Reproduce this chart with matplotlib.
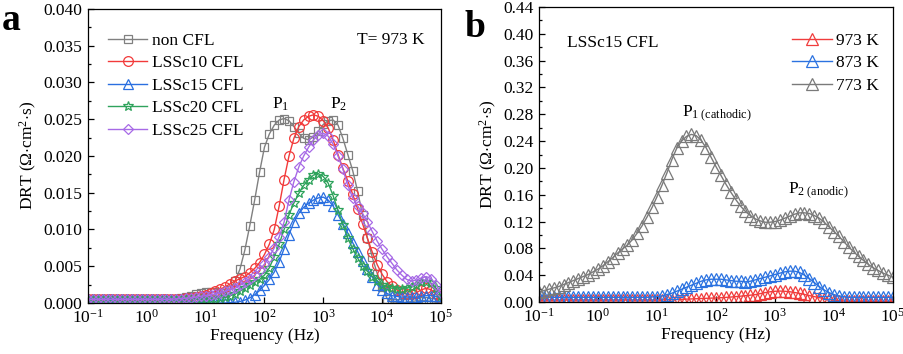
import numpy as np
import matplotlib
matplotlib.use("Agg")
import matplotlib.pyplot as plt
from matplotlib.ticker import FixedLocator, NullLocator, AutoMinorLocator, FormatStrFormatter, LogFormatterMathtext

plt.rcParams['font.family'] = ['Liberation Serif', 'DejaVu Serif']
plt.rcParams['mathtext.fontset'] = 'custom'
plt.rcParams['mathtext.rm'] = 'Liberation Serif'
plt.rcParams['mathtext.it'] = 'Liberation Serif:italic'
plt.rcParams['mathtext.bf'] = 'Liberation Serif:bold'

# frequency grid: 12 points per decade, 10^-1 .. 10^5 Hz
freq = np.logspace(-1, 5, 73)

# ---- panel a: DRT at 973 K (units of 1e-3 Ohm cm2 s) ----
labels_a = ["non CFL", "LSSc10 CFL", "LSSc15 CFL", "LSSc20 CFL", "LSSc25 CFL"]
non_cfl = [0.5]*12 + [
    0.5, 0.5, 0.5, 0.5, 0.5, 0.5, 0.55, 0.65, 0.8, 1.0, 1.2, 1.35,
    1.45, 1.5, 1.5, 1.4, 1.4, 1.8, 3.0, 4.6, 7.2, 10.5, 14.0, 17.8,
    21.2, 23.0, 24.2, 24.9, 25.1, 24.8, 24.0, 23.1, 22.4, 22.2, 22.6, 23.4,
    24.3, 24.8, 24.9, 24.2, 22.4, 20.2, 18.0, 15.2, 12.0, 8.8, 6.2, 4.0,
    2.2, 0.6, 0.0, 0.0, 0.0, 0.1, 0.2, 0.3, 0.3, 0.3, 0.2, 0.1,
    0.1]
lssc10 = [0.5]*12 + [
    0.5, 0.5, 0.5, 0.5, 0.5, 0.5, 0.55, 0.6, 0.65, 0.7, 0.8, 0.9,
    1.1, 1.3, 1.6, 1.9, 2.2, 2.6, 3.0, 3.3, 3.6, 4.1, 4.7, 5.5,
    6.6, 8.0, 10.0, 13.2, 16.8, 20.0, 22.4, 24.0, 24.9, 25.4, 25.6, 25.4,
    24.8, 23.8, 22.2, 20.2, 18.3, 16.6, 14.8, 12.8, 10.8, 8.8, 6.9, 5.2,
    3.9, 2.9, 2.3, 1.8, 1.4, 1.2, 1.2, 1.4, 1.8, 2.0, 1.8, 1.2,
    0.6]
lssc15 = [0.5]*12 + [
    0.5, 0.5, 0.5, 0.45, 0.4, 0.35, 0.3, 0.25, 0.2, 0.15, 0.1, 0.05,
    0.0, 0.0, 0.0, 0.0, 0.0, 0.05, 0.1, 0.2, 0.4, 0.7, 1.1, 1.7,
    2.4, 3.2, 4.2, 5.6, 7.4, 9.3, 11.0, 12.2, 13.0, 13.6, 14.0, 14.3,
    14.4, 14.0, 13.2, 12.0, 10.8, 9.5, 8.2, 7.0, 5.7, 4.6, 3.5, 2.5,
    1.8, 1.3, 1.0, 0.9, 0.8, 0.8, 0.8, 0.8, 0.9, 1.0, 1.0, 0.9,
    0.6]
lssc20 = [0.5]*24 + [
    0.5, 0.55, 0.6, 0.7, 0.8, 1.0, 1.2, 1.6, 2.0, 2.4, 2.8, 3.2,
    3.8, 4.8, 6.3, 8.0, 10.0, 12.0, 13.6, 14.9, 16.0, 16.8, 17.4, 17.6,
    17.2, 16.3, 14.6, 12.6, 10.6, 8.8, 7.4, 6.1, 5.1, 4.3, 3.6, 3.0,
    2.5, 2.2, 2.0, 1.9, 1.9, 2.0, 2.2, 2.5, 2.8, 2.9, 2.7, 2.0,
    1.0]
lssc25 = [0.5]*12 + [
    0.5, 0.5, 0.5, 0.5, 0.5, 0.5, 0.55, 0.6, 0.65, 0.7, 0.8, 0.9,
    1.0, 1.1, 1.2, 1.4, 1.6, 1.8, 2.0, 2.4, 2.8, 3.3, 3.8, 4.5,
    5.3, 6.3, 7.5, 9.0, 11.0, 14.0, 16.5, 18.5, 20.0, 21.2, 22.2, 22.9,
    23.1, 22.7, 21.6, 20.0, 18.2, 16.0, 14.3, 13.2, 12.2, 11.0, 9.7, 8.4,
    7.3, 6.3, 5.4, 4.5, 3.8, 3.2, 3.0, 3.1, 3.4, 3.6, 3.3, 2.5,
    1.3]
series_a = [non_cfl, lssc10, lssc15, lssc20, lssc25]
colors_a = ["#808080", "#f23a3a", "#2a6fe0", "#2fa35c", "#a76ae6"]
markers_a = ["s", "o", "^", "*", "D"]
msizes_a = [5.8, 7.0, 6.6, 7.2, 5.4]

# ---- panel b: LSSc15 CFL at different temperatures ----
labels_b = ["973 K", "873 K", "773 K"]
t973 = [0.003]*24 + [
    0.003, 0.0032, 0.0034, 0.0036, 0.0038, 0.004, 0.0043, 0.0046, 0.0049, 0.0052, 0.0055, 0.0058,
    0.006, 0.0064, 0.0069, 0.0074, 0.008, 0.0087, 0.0094, 0.0102, 0.011, 0.0125, 0.014, 0.0152,
    0.016, 0.0163, 0.016, 0.0153, 0.0142, 0.0128, 0.0112, 0.0096, 0.008, 0.0065, 0.0051, 0.0039,
    0.0029, 0.0021, 0.0016, 0.0013, 0.0011, 0.001, 0.001, 0.001, 0.001, 0.001, 0.001, 0.001,
    0.001]
t873 = [0.007]*23 + [
    0.0075,
    0.008, 0.009, 0.011, 0.013, 0.016, 0.019, 0.022, 0.025, 0.028, 0.031, 0.033, 0.034,
    0.034, 0.034, 0.033, 0.032, 0.031, 0.031, 0.030, 0.031, 0.033, 0.035, 0.037, 0.039,
    0.041, 0.043, 0.045, 0.046, 0.046, 0.044, 0.040, 0.035, 0.029, 0.023, 0.018, 0.014,
    0.011, 0.009, 0.008, 0.007, 0.007, 0.007, 0.007, 0.007, 0.007, 0.007, 0.007, 0.007,
    0.007]
t773 = [
    0.015, 0.017, 0.019, 0.021, 0.023, 0.026, 0.029, 0.032, 0.035, 0.038, 0.041, 0.045,
    0.049, 0.054, 0.060, 0.066, 0.073, 0.079, 0.085, 0.093, 0.103, 0.114, 0.127, 0.141,
    0.157, 0.174, 0.192, 0.212, 0.229, 0.240, 0.247, 0.250, 0.248, 0.241, 0.230, 0.216,
    0.202, 0.189, 0.176, 0.164, 0.153, 0.143, 0.135, 0.129, 0.124, 0.121, 0.119, 0.119,
    0.120, 0.122, 0.125, 0.128, 0.131, 0.133, 0.133, 0.132, 0.129, 0.125, 0.119, 0.112,
    0.105, 0.098, 0.090, 0.082, 0.075, 0.068, 0.062, 0.056, 0.051, 0.047, 0.043, 0.040,
    0.037]
series_b = [t973, t873, t773]
colors_b = ["#f03c3c", "#2b72e0", "#7a7a7a"]

FS = 12.5

fig = plt.figure(figsize=(9.04, 3.54), dpi=100)
axa = fig.add_axes([0.0973, 0.1441, 0.3905, 0.8305])
axb = fig.add_axes([0.5962, 0.1469, 0.3916, 0.8333])

for ys, c, m, ms, lab in zip(series_a, colors_a, markers_a, msizes_a, labels_a):
    axa.plot(freq, np.array(ys) * 1e-3, color=c, lw=1.0, marker=m, ms=ms,
             mfc='none', mec=c, mew=0.9, label=lab)

for ys, c, lab in zip(series_b, colors_b, labels_b):
    axb.plot(freq, ys, color=c, lw=1.0, marker='^', ms=8.0,
             mfc='none', mec=c, mew=0.9, label=lab)

for ax in (axa, axb):
    ax.set_xscale('log')
    ax.set_xlim(0.1, 1e5)
    ax.xaxis.set_major_locator(FixedLocator([1e-1, 1e0, 1e1, 1e2, 1e3, 1e4, 1e5]))
    ax.xaxis.set_major_formatter(LogFormatterMathtext())
    ax.xaxis.set_minor_locator(NullLocator())
    ax.tick_params(which='both', direction='in', top=False, right=False, labelsize=FS)
    ax.tick_params(which='major', length=4, width=0.9, pad=4)
    ax.tick_params(which='minor', length=2.2, width=0.9)
    for s in ax.spines.values():
        s.set_linewidth(0.9)
    ax.set_xlabel("Frequency (Hz)", fontsize=FS, labelpad=1)
    ax.set_ylabel(r"DRT ($\Omega$$\cdot$cm$^2$$\cdot$s)", fontsize=FS, labelpad=3)

axa.set_ylim(0, 0.040)
axa.yaxis.set_major_locator(FixedLocator(np.arange(0, 0.0401, 0.005)))
axa.yaxis.set_major_formatter(FormatStrFormatter('%.3f'))
axa.yaxis.set_minor_locator(AutoMinorLocator(2))

axb.set_ylim(0, 0.44)
axb.yaxis.set_major_locator(FixedLocator(np.arange(0, 0.4401, 0.04)))
axb.yaxis.set_major_formatter(FormatStrFormatter('%.2f'))
axb.yaxis.set_minor_locator(AutoMinorLocator(2))

axa.legend(loc='upper left', bbox_to_anchor=(0.057, 0.92), frameon=False, fontsize=FS,
           borderpad=0, borderaxespad=0, handlelength=2.25, handletextpad=0.3,
           labelspacing=0.37)
axb.legend(loc='upper left', bbox_to_anchor=(0.715, 0.913), frameon=False, fontsize=FS,
           borderpad=0, borderaxespad=0, handlelength=2.3, handletextpad=0.25,
           labelspacing=0.37)

axa.text(0.955, 0.895, "T= 973 K", transform=axa.transAxes, ha='right', va='center', fontsize=FS)
axa.text(10**2.13, 0.0265, r"P$_\mathregular{1}$", ha='left', va='baseline', fontsize=FS)
axa.text(10**3.11, 0.0265, r"P$_\mathregular{2}$", ha='left', va='baseline', fontsize=FS)

axb.text(0.079, 0.878, "LSSc15 CFL", transform=axb.transAxes, ha='left', va='center', fontsize=FS)
axb.text(10**1.42, 0.276, r"P$_\mathregular{1\ (cathodic)}$", ha='left', va='baseline', fontsize=FS)
axb.text(10**3.22, 0.161, r"P$_\mathregular{2\ (anodic)}$", ha='left', va='baseline', fontsize=FS)

fig.text(0.002, 0.915, "a", fontsize=27, fontweight='bold', ha='left', va='baseline')
fig.text(0.514, 0.895, "b", fontsize=27, fontweight='bold', ha='left', va='baseline')

fig.savefig("out.png", dpi=100)
